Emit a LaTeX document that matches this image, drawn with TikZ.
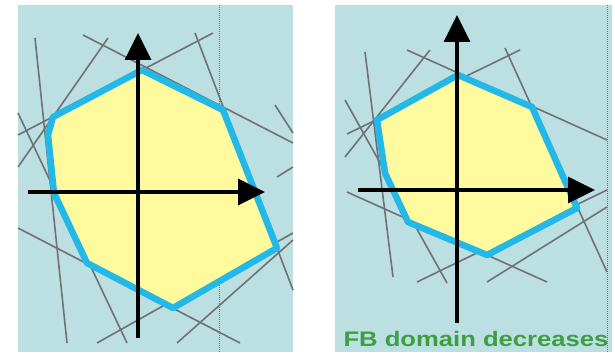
\documentclass[tikz,border=0pt]{standalone}
\usepackage{fontspec}
\setmainfont{Liberation Sans}
\usetikzlibrary{arrows.meta}
\definecolor{panelbg}{HTML}{BCDFE2}
\definecolor{domfill}{HTML}{FFFA9E}
\definecolor{domline}{HTML}{22B8E8}
\definecolor{cutgray}{HTML}{6E7275}
\definecolor{fbgreen}{HTML}{3E9E44}
\begin{document}
\begin{tikzpicture}[x=1pt,y=-1pt,
  cut/.style={cutgray, line width=1.6pt},
  fbdomain/.style={fill=domfill, draw=domline, line width=6.5pt, line join=round},
  axis/.style={black, line width=3.5pt, -{Triangle[length=27pt,width=26pt]}},
  guide/.style={cutgray, line width=1pt, densely dotted}]
\useasboundingbox (0,0) rectangle (615,358);
% left panel
\fill[panelbg] (18,5) rectangle (293,352);
\draw[guide] (219,5) -- (219,352);
\draw[cut] (35,38) -- (67,343);
\draw[cut] (83,35) -- (293,143);
\draw[cut] (108,38) -- (18,167);
\draw[cut] (195,33) -- (293,290);
\draw[cut] (213,33) -- (18,135);
\draw[cut] (18,113) -- (127,343);
\draw[cut] (18,228) -- (240,343);
\draw[cut] (97,343) -- (293,233);
\draw[cut] (177,343) -- (293,240);
\draw[cut] (275,105) -- (293,133);
\draw[cut] (293,167) -- (277,177);
\draw[fbdomain] (142,70) -- (223,110) -- (277,248) -- (173,308)
  -- (87,263) -- (54,193) -- (48,135) -- (53,117) -- cycle;
\draw[axis] (138,338) -- (138,33);
\draw[axis] (28,192) -- (265,192);
% right panel
\fill[panelbg] (335,5) rectangle (612,352);
\draw[guide] (607,5) -- (607,352);
\draw[cut] (365,52) -- (393,277);
\draw[cut] (407,50) -- (607,140);
\draw[cut] (430,50) -- (345,157);
\draw[cut] (347,134) -- (520,50);
\draw[cut] (505,48) -- (607,272);
\draw[cut] (347,192) -- (547,282);
\draw[cut] (417,282) -- (607,190);
\draw[cut] (487,282) -- (607,207);
\draw[cut] (345,100) -- (447,283);
\draw[fbdomain] (458,75) -- (532,107) -- (577,208) -- (487,255)
  -- (408,222) -- (385,173) -- (377,120) -- cycle;
\draw[axis] (457,323) -- (457,15);
\draw[axis] (358,190) -- (595,190);
\node[text=fbgreen, font=\fontsize{21}{21}\selectfont\bfseries, anchor=base,
  xscale=1.22, inner sep=0pt] (fbnote) at (476,346) {FB domain decreases};
\end{tikzpicture}
\end{document}
